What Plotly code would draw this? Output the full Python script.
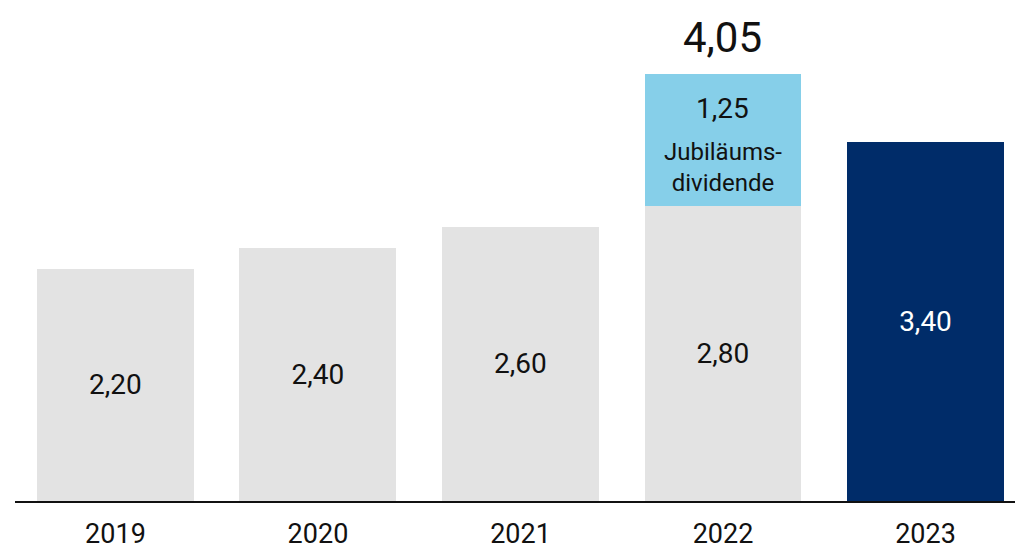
import plotly.graph_objects as go

years = ["2019", "2020", "2021", "2022", "2023"]
base_values = [2.20, 2.40, 2.60, 2.80, 3.40]
extra_values = [0, 0, 0, 1.25, 0]
extra_label = "Jubiläums-<br>dividende"
total_2022 = 4.05

GREY = "#E3E3E3"
LIGHT = "#86CFE9"
NAVY = "#002C69"
FONT = "Roboto"

xpos = list(range(len(years)))
base_colors = [GREY, GREY, GREY, GREY, NAVY]
text_colors = ["#111111", "#111111", "#111111", "#111111", "#FFFFFF"]

fig = go.Figure()
fig.add_trace(go.Bar(
    x=xpos, y=base_values, width=0.775,
    marker=dict(color=base_colors, line=dict(width=0)),
    texttemplate="%{y:.2f}", textposition="inside", insidetextanchor="middle",
    textangle=0, textfont=dict(family=FONT, size=28, color=text_colors),
    hoverinfo="skip",
))
fig.add_trace(go.Bar(
    x=xpos, y=extra_values, width=0.775,
    marker=dict(color=LIGHT, line=dict(width=0)),
    hoverinfo="skip",
))

i = 3
seg_mid = base_values[i] + extra_values[i] / 2
fig.add_annotation(x=i, y=seg_mid, text=f"{extra_values[i]:.2f}".replace(".", ","),
                   showarrow=False, yshift=31, font=dict(family=FONT, size=28, color="#111111"))
fig.add_annotation(x=i, y=seg_mid, text=extra_label, showarrow=False, yshift=-28,
                   font=dict(family=FONT, size=24, color="#111111"))
fig.add_annotation(x=i, y=total_2022, text=f"{total_2022:.2f}".replace(".", ","),
                   showarrow=False, yanchor="bottom", yshift=10,
                   font=dict(family=FONT, size=42, color="#111111"))

fig.update_layout(
    barmode="stack", showlegend=False, separators=",.",
    width=1015, height=551, margin=dict(l=15, r=0, t=0, b=50, autoexpand=False),
    paper_bgcolor="white", plot_bgcolor="white",
    xaxis=dict(range=[-0.496, 4.442], tickvals=xpos, ticktext=years, automargin=False,
               showline=True, linecolor="#111111", linewidth=1.5,
               showgrid=False, zeroline=False, ticks="", ticklabelstandoff=8,
               tickfont=dict(family=FONT, size=27, color="#111111")),
    yaxis=dict(range=[0, 4.749], visible=False, showgrid=False, zeroline=False,
               automargin=False),
)

fig.write_html("out.html", config={"displayModeBar": False},
               post_script="document.body.style.margin='0';document.body.style.overflow='hidden';")
